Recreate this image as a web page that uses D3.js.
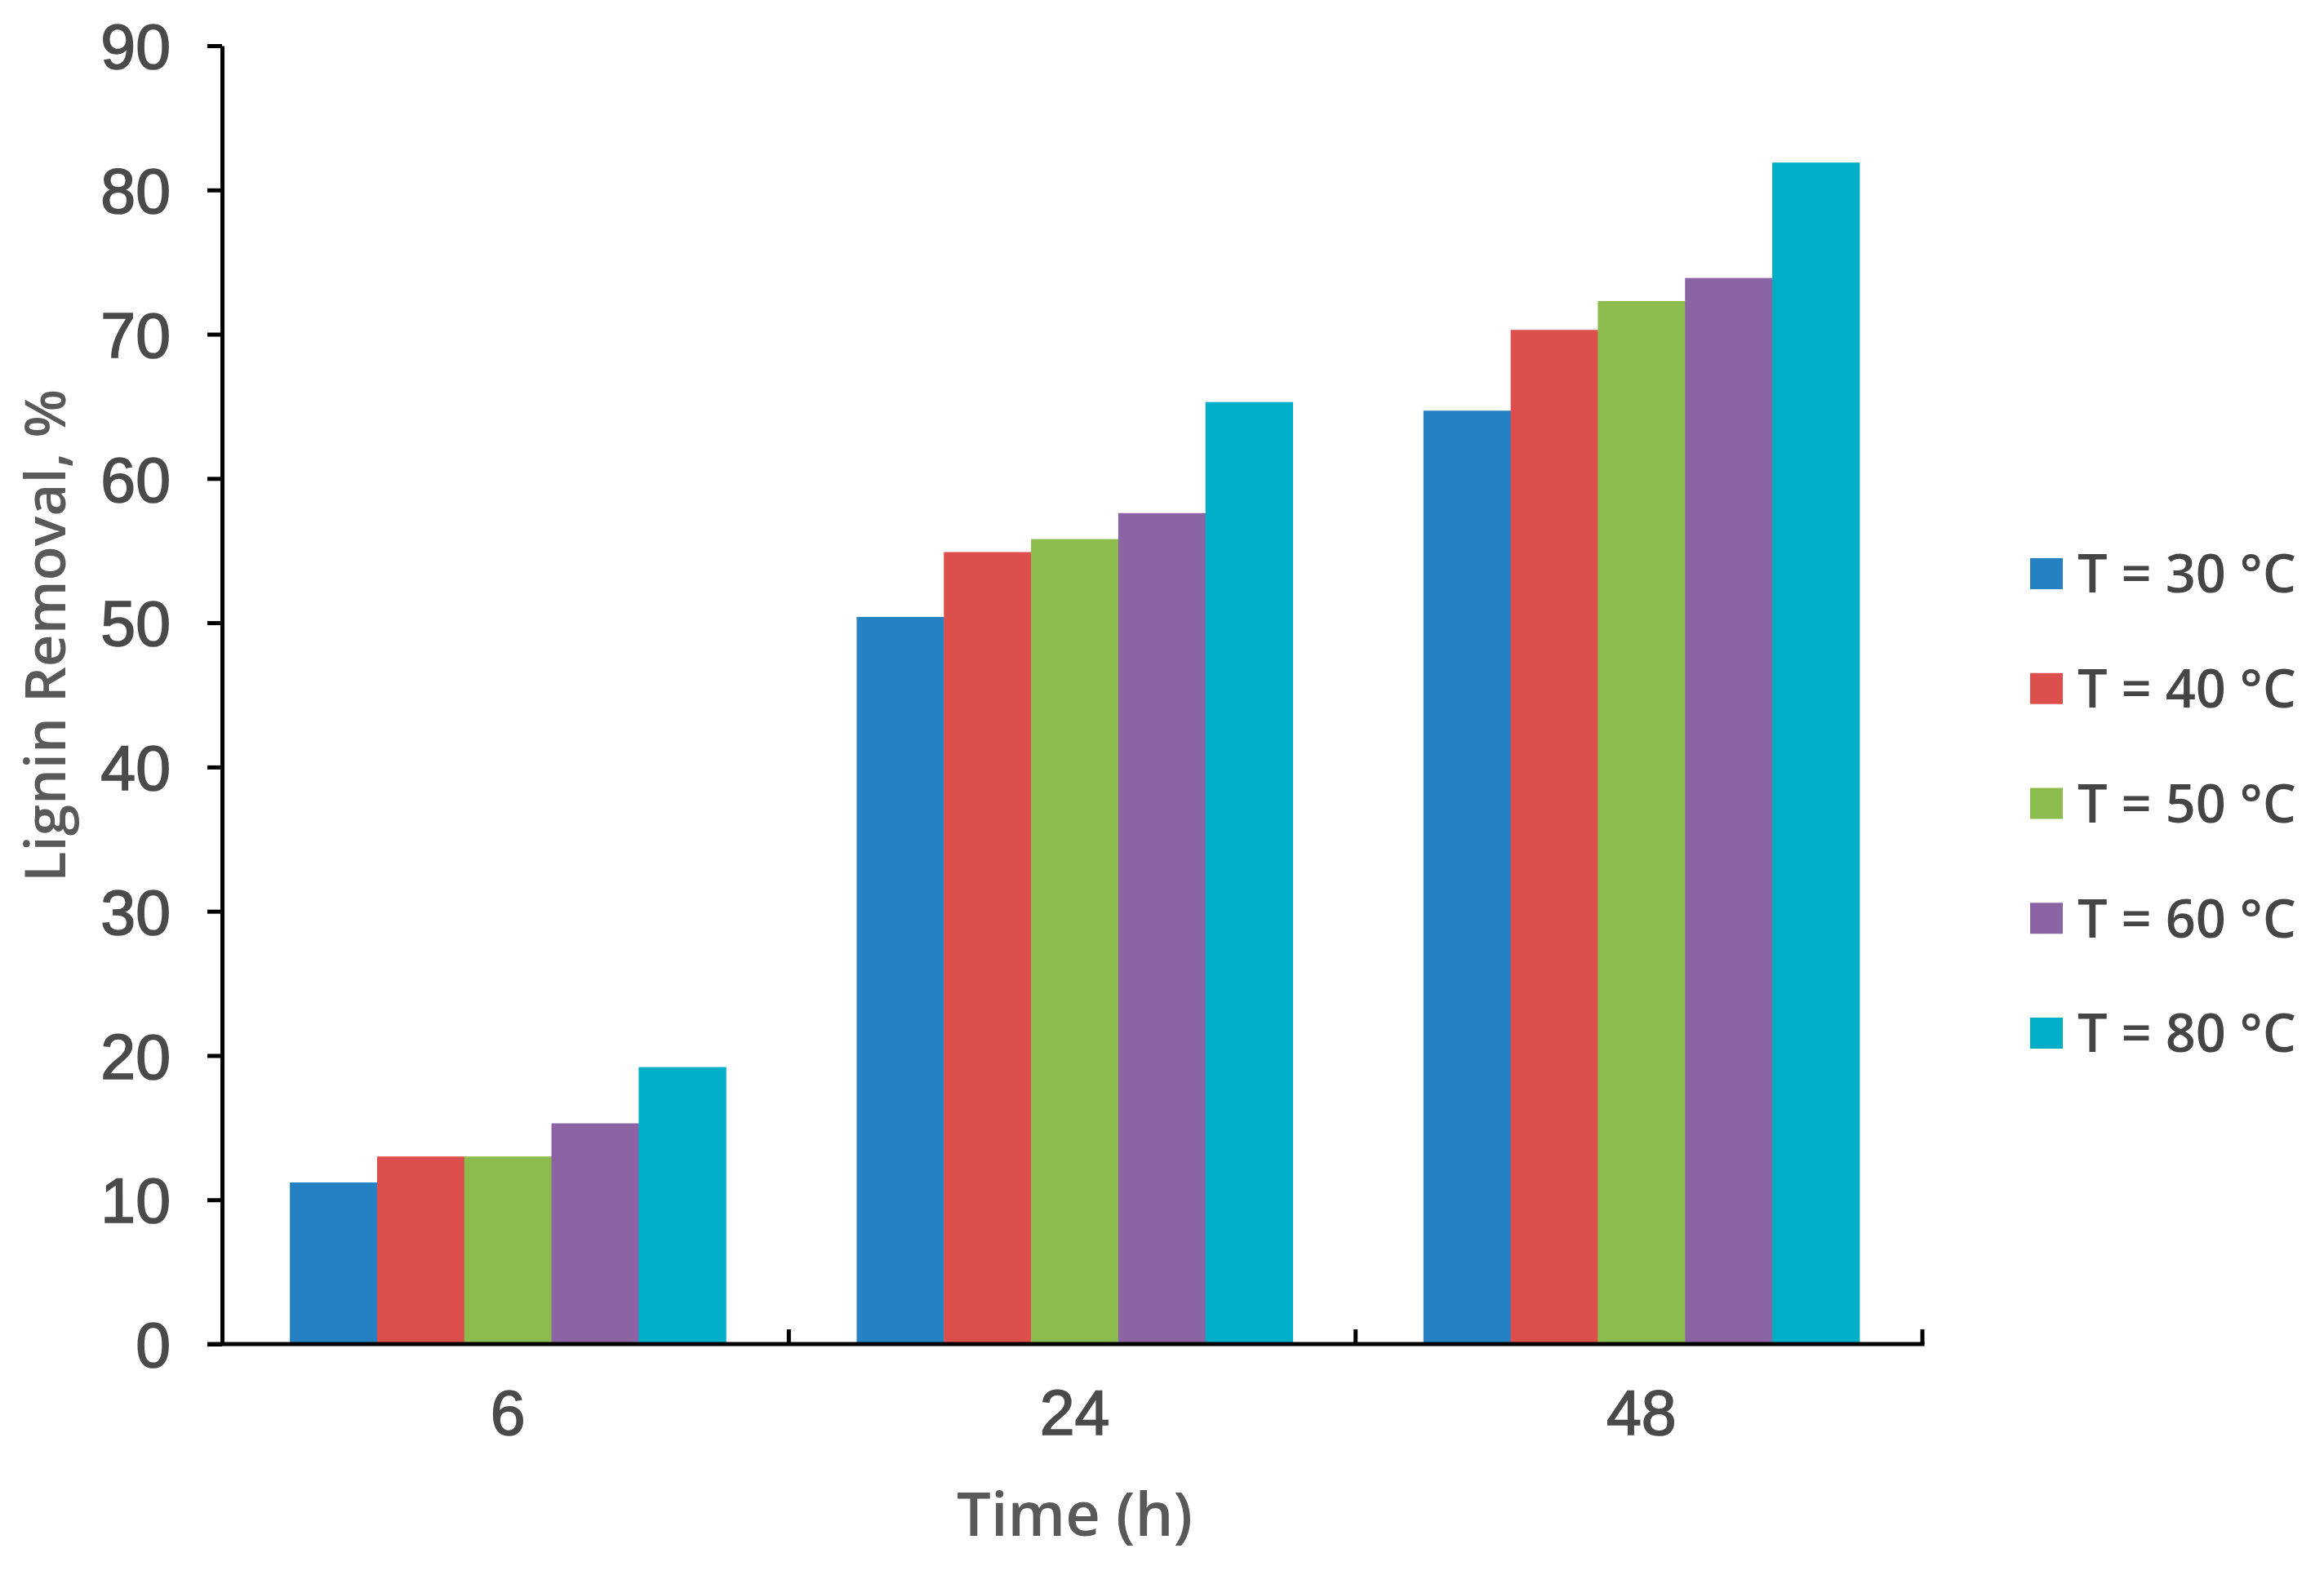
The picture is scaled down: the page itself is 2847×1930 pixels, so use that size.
<!DOCTYPE html>
<html>
<head>
<meta charset="utf-8">
<script src="https://cdn.jsdelivr.net/npm/d3@7"></script>
<style>
  html, body { margin: 0; padding: 0; background: #ffffff; }
  svg { display: block; }
</style>
</head>
<body>
<svg id="chart" width="2847" height="1930"></svg>
<script>
// ---- Data ----
const categories = ["6", "24", "48"];
const seriesNames = ["T = 30 °C", "T = 40 °C", "T = 50 °C", "T = 60 °C", "T = 80 °C"];
const t30 = [11.2, 50.4, 64.7];
const t40 = [13.0, 54.9, 70.3];
const t50 = [13.0, 55.8, 72.3];
const t60 = [15.3, 57.6, 73.9];
const t80 = [19.2, 65.3, 81.9];
const seriesValues = [t30, t40, t50, t60, t80];
const seriesColors = ["#2581C1", "#DC4F4D", "#8CBB4E", "#8A64A3", "#00AEC8"];
const yTicks = [0, 10, 20, 30, 40, 50, 60, 70, 80, 90];
const yTitle = "Lignin Removal, %";
const xTitle = "Time (h)";

// ---- Layout ----
const W = 2847, H = 1930;
const plot = { left: 272, right: 2355, top: 56, bottom: 1647 };
const svg = d3.select("#chart");
svg.append("rect").attr("width", W).attr("height", H).attr("fill", "#ffffff");

const y = d3.scaleLinear().domain([0, 90]).range([plot.bottom, plot.top]);
const x0 = d3.scaleBand().domain(categories).range([plot.left, plot.right]).paddingInner(0).paddingOuter(0);
const x1 = d3.scaleBand().domain(seriesNames).range([0, x0.bandwidth()]).paddingInner(0).paddingOuter(0.75);
const color = d3.scaleOrdinal().domain(seriesNames).range(seriesColors);

// ---- Bars ----
const groups = svg.append("g").selectAll("g")
  .data(categories)
  .join("g")
  .attr("transform", d => `translate(${x0(d) + 3},0)`);

groups.selectAll("rect")
  .data((c, ci) => seriesNames.map((s, si) => ({ s, v: seriesValues[si][ci] })))
  .join("rect")
  .attr("x", d => x1(d.s))
  .attr("width", x1.bandwidth() + 0.5)
  .attr("y", d => y(d.v))
  .attr("height", d => y(0) - y(d.v))
  .attr("fill", d => color(d.s));

// ---- Y axis ----
const yAxis = svg.append("g")
  .attr("transform", `translate(${plot.left},0)`)
  .call(d3.axisLeft(y).tickValues(yTicks).tickSize(18).tickPadding(45).tickSizeOuter(0));
yAxis.select(".domain").attr("stroke", "#000").attr("stroke-width", 5);
yAxis.selectAll(".tick line").attr("stroke", "#000").attr("stroke-width", 5);
yAxis.selectAll(".tick text")
  .attr("font-family", "'Liberation Sans', Arial, sans-serif")
  .attr("font-size", 77)
  .attr("fill", "#4a4a4a")
  .attr("stroke", "#4a4a4a")
  .attr("stroke-width", 1.6)
  .attr("dy", "0.36em");

// ---- X axis ----
const xAxis = svg.append("g")
  .attr("transform", `translate(3,${plot.bottom})`)
  .call(d3.axisBottom(x0).tickSize(0).tickPadding(56).tickSizeOuter(0));
xAxis.select(".domain").remove();
xAxis.selectAll(".tick text")
  .attr("font-family", "'Liberation Sans', Arial, sans-serif")
  .attr("font-size", 77)
  .attr("fill", "#4a4a4a")
  .attr("stroke", "#4a4a4a")
  .attr("stroke-width", 1.6);

// x axis line (extends left to meet the 0 tick)
svg.append("line")
  .attr("x1", plot.left - 18).attr("x2", x0.range()[1] + 2.5)
  .attr("y1", y(0)).attr("y2", y(0))
  .attr("stroke", "#000").attr("stroke-width", 5);

// category boundary ticks (pointing up)
svg.append("g").selectAll("line")
  .data(categories)
  .join("line")
  .attr("x1", d => x0(d) + x0.bandwidth())
  .attr("x2", d => x0(d) + x0.bandwidth())
  .attr("y1", y(0))
  .attr("y2", y(0) - 18)
  .attr("stroke", "#000").attr("stroke-width", 5);

// ---- Axis titles ----
svg.append("text")
  .attr("transform", `translate(80,779) rotate(-90)`)
  .attr("text-anchor", "middle")
  .attr("font-family", "'Open Sans', sans-serif")
  .attr("font-weight", 600)
  .attr("font-size", 69)
  .attr("fill", "#595959")
  .text(yTitle);

svg.append("text")
  .attr("x", x0("24") + x0.bandwidth() / 2 + 3)
  .attr("y", 1882)
  .attr("text-anchor", "middle")
  .attr("font-family", "'Open Sans', sans-serif")
  .attr("font-weight", 600)
  .attr("font-size", 74)
  .attr("fill", "#595959")
  .text(xTitle);

// ---- Legend ----
const legendY = d3.scalePoint().domain(seriesNames).range([703, 1266]);
const legend = svg.append("g").selectAll("g")
  .data(seriesNames)
  .join("g")
  .attr("transform", d => `translate(2487,${legendY(d)})`);
legend.append("rect")
  .attr("x", 0).attr("y", -19)
  .attr("width", 40).attr("height", 38)
  .attr("fill", d => color(d));
legend.append("text")
  .attr("x", 58).attr("y", 0)
  .attr("dy", "0.36em")
  .attr("font-family", "'Open Sans', sans-serif")
  .attr("font-weight", 600)
  .attr("font-size", 65)
  .attr("fill", "#454545")
  .text(d => d);
</script>
</body>
</html>
